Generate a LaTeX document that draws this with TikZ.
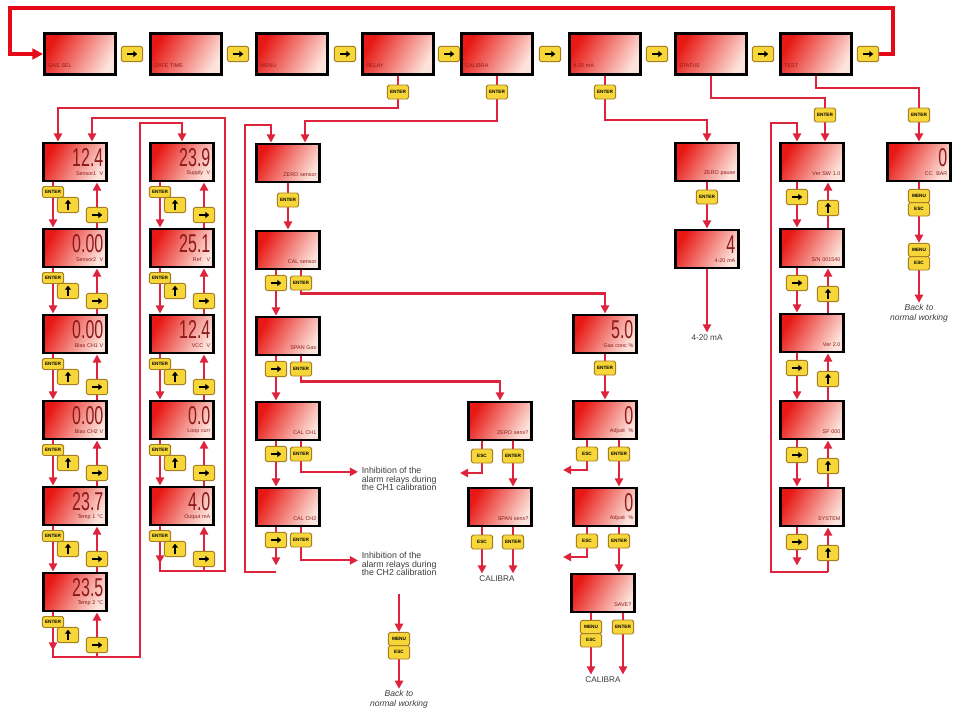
\documentclass[tikz,border=0pt]{standalone}
\usepackage{fontspec}
\setmainfont{Liberation Sans}
\usepackage{graphicx}
\usetikzlibrary{arrows.meta,calc,positioning}

\definecolor{flowred}{RGB}{221,36,60}
\definecolor{loopred}{RGB}{230,10,24}
\definecolor{lcdred}{RGB}{232,24,20}
\definecolor{lcdpale}{RGB}{252,228,220}
\definecolor{lcdink}{RGB}{140,26,26}
\definecolor{keyfill}{RGB}{247,214,58}
\definecolor{keyedge}{RGB}{165,125,35}
\definecolor{noteink}{RGB}{60,60,60}

\pgfdeclarelayer{wires}
\pgfsetlayers{wires,main}

\newcommand{\lcdnum}[1]{\rule{0pt}{15pt}\scalebox{0.62}[1]{\fontsize{22}{22}\selectfont #1}}

\tikzset{
  lcd/.style={draw=black, line width=2.5pt, left color=lcdred, right color=lcdpale,
    shading angle=60, minimum width=1.89cm, minimum height=1.14cm, inner sep=1.5pt,
    text width=1.7cm, align=right, text=lcdink, font=\fontsize{4.6}{5.5}\selectfont},
  lcdtop/.style={lcd, minimum width=2.13cm, minimum height=1.23cm, text width=1.9cm, align=left},
  key/.style={draw=keyedge, fill=keyfill, line width=0.8pt, rounded corners=1.5pt,
    minimum width=0.64cm, minimum height=0.46cm, inner sep=0pt, font=\fontsize{4}{4}\selectfont\bfseries},
  rkey/.style={key, path picture={\draw[draw=black, sharp corners, line width=1.5pt,
      -{Triangle[length=3.4pt,width=5.2pt,fill=black]}]
      ([xshift=-4.5pt]path picture bounding box.center) -- ([xshift=4.5pt]path picture bounding box.center);}},
  ukey/.style={key, path picture={\draw[draw=black, sharp corners, line width=1.5pt,
      -{Triangle[length=3.4pt,width=5.2pt,fill=black]}]
      ([yshift=-4.5pt]path picture bounding box.center) -- ([yshift=4.5pt]path picture bounding box.center);}},
  enterkey/.style={key, minimum height=0.42cm},
  stackkey/.style={key, minimum height=0.33cm},
  menukey/.style={key, minimum height=0.40cm},
  flow/.style={draw=flowred, line width=1.8pt, -{Triangle[length=7pt,width=7pt]}},
  link/.style={draw=flowred, line width=1.8pt},
  bigflow/.style={draw=loopred, line width=3.2pt, -{Triangle[length=9pt,width=9pt]}},
  note/.style={font=\fontsize{7.5}{7.6}\selectfont, text=noteink, align=left, inner sep=3pt},
  back/.style={font=\itshape\fontsize{7.3}{8.2}\selectfont, text=noteink, align=center, inner sep=1pt},
  tag/.style={font=\fontsize{7}{8}\selectfont, text=noteink, inner sep=2pt}
}

\begin{document}
\begin{tikzpicture}[x=0.03cm, y=-0.03cm]
  \useasboundingbox (0,0) rectangle (967,715);

  % top menu ring
  \foreach \n/\x/\lbl in {1/80/GAS SEL, 2/186/DATE TIME, 3/292/MENU, 4/398/RELAY,
      5/497/CALIBRA, 6/605/4-20 mA, 7/711/STATUS, 8/816/TEST}
    \node[lcdtop] (t\n) at (\x,54) {\lcdnum{}\\[2pt]\lbl};
  \foreach \n/\x in {1/132,2/238,3/345,4/449,5/550,6/657,7/763,8/868}
    \node[rkey] (ka\n) at (\x,54) {};
  \node[enterkey] (e4) at (398,92) {ENTER};
  \node[enterkey] (e5) at (497,92) {ENTER};
  \node[enterkey] (e6) at (605,92) {ENTER};
  \node[enterkey] (e7) at (825,115) {ENTER};
  \node[enterkey] (e8) at (919,115) {ENTER};

  % relay pages
  \foreach \n/\y/\val/\lbl in {1/162/12.4/Sensor1~~V, 2/248/0.00/Sensor2~~V, 3/334/0.00/Bias CH1~V,
      4/420/0.00/Bias CH2~V, 5/506/23.7/Temp 1~°C, 6/592/23.5/Temp 2~°C}
    \node[lcd] (r\n) at (75,\y) {\lcdnum{\val}\\[2pt]\lbl};
  \foreach \n/\y/\val/\lbl in {1/162/23.9/Supply~~V, 2/248/25.1/Ref~~~V, 3/334/12.4/VCC~~V,
      4/420/0.0/Loop curr, 5/506/4.0/Output mA}
    \node[lcd] (s\n) at (182,\y) {\lcdnum{\val}\\[2pt]\lbl};
  \foreach \n in {1,...,6} {
    \node[stackkey] (re\n) at ($(r\n)+(-22,30)$) {ENTER};
    \node[ukey] (ru\n) at ($(r\n)+(-7,43)$) {};
    \node[rkey] (rk\n) at ($(r\n)+(22,53)$) {};
  }
  \foreach \n in {1,...,5} {
    \node[stackkey] (se\n) at ($(s\n)+(-22,30)$) {ENTER};
    \node[ukey] (su\n) at ($(s\n)+(-7,43)$) {};
    \node[rkey] (sk\n) at ($(s\n)+(22,53)$) {};
  }

  % calibration pages
  \foreach \n/\y/\lbl in {1/163/ZERO sensor, 2/250/CAL sensor, 3/336/SPAN Gas, 4/421/CAL CH1, 5/507/CAL CH2}
    \node[lcd] (c\n) at (288,\y) {\lcdnum{}\\[2pt]\lbl};
  \node[enterkey] (ce1) at (288,200) {ENTER};
  \foreach \n in {2,...,5} {
    \node[rkey] (ck\n) at ($(c\n)+(-12,33)$) {};
    \node[enterkey] (ce\n) at ($(c\n)+(13,33)$) {ENTER};
  }
  \node[lcd] (z1) at (500,421) {\lcdnum{}\\[2pt]ZERO sens?};
  \node[lcd] (z2) at (500,507) {\lcdnum{}\\[2pt]SPAN sens?};
  \foreach \n in {1,2} {
    \node[enterkey] (zx\n) at ($(z\n)+(-18,35)$) {ESC};
    \node[enterkey] (zn\n) at ($(z\n)+(13,35)$) {ENTER};
  }
  \node[lcd] (g1) at (605,334) {\lcdnum{5.0}\\[2pt]Gas conc~\%};
  \node[lcd] (g2) at (605,420) {\lcdnum{0}\\[2pt]Adjust~~\%};
  \node[lcd] (g3) at (605,507) {\lcdnum{0}\\[2pt]Adjust~~\%};
  \node[lcd] (g4) at (603,593) {\lcdnum{}\\[2pt]SAVE?};
  \node[enterkey] (ge1) at (605,368) {ENTER};
  \foreach \n in {2,3} {
    \node[enterkey] (gx\n) at ($(g\n)+(-18,34)$) {ESC};
    \node[enterkey] (gn\n) at ($(g\n)+(14,34)$) {ENTER};
  }
  \node[menukey] (gm4) at ($(g4)+(-12,34)$) {MENU};
  \node[menukey, below=-0.8pt of gm4] (gx4) {ESC};
  \node[enterkey] (gn4) at ($(g4)+(20,34)$) {ENTER};

  % analog output pages
  \node[lcd] (a1) at (707,162) {\lcdnum{}\\[2pt]ZERO pause};
  \node[enterkey] (ae1) at (707,197) {ENTER};
  \node[lcd] (a2) at (707,249) {\lcdnum{4}\\[2pt]4-20 mA};

  % status pages
  \foreach \n/\y/\lbl in {1/162/{Ver SW 1.0}, 2/248/{S/N 001540}, 3/333/{Ver 2.0}, 4/420/{SF 000}, 5/507/{SYSTEM}}
    \node[lcd] (q\n) at (812,\y) {\lcdnum{}\\[2pt]\lbl};
  \foreach \n in {1,...,5} {
    \node[rkey] (qk\n) at ($(q\n)+(-15,35)$) {};
    \node[ukey] (qu\n) at ($(q\n)+(16,46)$) {};
  }

  % test page
  \node[lcd] (p1) at (919,162) {\lcdnum{0}\\[2pt]CC~~BAR};
  \node[menukey] (pm1) at (919,196) {MENU};
  \node[menukey, below=-0.8pt of pm1] (px1) {ESC};
  \node[menukey] (pm2) at (919,250) {MENU};
  \node[menukey, below=-0.8pt of pm2] (px2) {ESC};

  % notes
  \node[note, anchor=north west] (inh1) at (358,463) {Inhibition of the\\alarm relays during\\the CH1 calibration};
  \node[note, anchor=north west] (inh2) at (358,548) {Inhibition of the\\alarm relays during\\the CH2 calibration};
  \node[menukey] (bm1) at (399,639) {MENU};
  \node[menukey, below=-0.8pt of bm1] (bs1) {ESC};
  \node[back] (bk1) at (399,699) {Back to\\normal working};
  \node[back] (bk2) at (919,313) {Back to\\normal working};
  \node[tag] (cal1) at (497,579) {CALIBRA};
  \node[tag] (cal2) at (603,680) {CALIBRA};
  \node[tag] (mA) at (707,338) {4-20 mA};

  \begin{pgfonlayer}{wires}
  % ring along the top row
  \coordinate (ringR) at (893,8);
  \coordinate (ringL) at (10,8);
  \draw[bigflow] (ka8.east) -| (ringR) -- (ringL) |- (t1.west);
  \foreach \n in {4,5,6} \draw[link] (t\n.south) -- (e\n.north);
  \draw[link] (t7.south) -- ++(0,22) -| (e7.north);
  \draw[link] (t8.south) -- ++(0,12) -| (e8.north);

  % relay loop
  \coordinate (rin) at (58,108);
  \draw[flow] (e4.south) |- (rin) -- (rin |- r1.north);
  \foreach \n [count=\m from 2] in {1,...,5} {
    \draw[flow] (r\n.south -| re\n) -- (r\m.north -| re\n);
    \draw[flow] (r\m.north -| rk\n) -- (r\n.south -| rk\n);
  }
  \foreach \n [count=\m from 2] in {1,...,4} {
    \draw[flow] (s\n.south -| se\n) -- (s\m.north -| se\n);
    \draw[flow] (s\m.north -| sk\n) -- (s\n.south -| sk\n);
  }
  \coordinate (rbot) at (140,657);
  \coordinate (rtop) at (140,123);
  \draw[flow] (r6.south -| re6) |- (rbot) -- (rtop) -| (s1.north);
  \draw[flow] (r6.south -| re6) -- ++(0,38);
  \draw[flow] (rk6 |- rbot) -- (r6.south -| rk6);
  \coordinate (sbot) at (225,571);
  \coordinate (stop) at (225,118);
  \draw[flow] (s5.south -| se5) |- (sbot) -- (stop) -| ($(r1.north)+(17,0)$);
  \draw[flow] (s5.south -| se5) -- ++(0,37);
  \draw[flow] (sk5 |- sbot) -- (s5.south -| sk5);

  % calibration
  \coordinate (cin) at (305,121);
  \draw[flow] (e5.south) |- (cin) -- (cin |- c1.north);
  \draw[flow] (c1.south) -- (c2.north);
  \foreach \n [count=\m from 3] in {2,3,4}
    \draw[flow] (c\n.south -| ck\n) -- (c\m.north -| ck\n);
  \coordinate (cbot) at (245,572);
  \coordinate (ctop) at (245,125);
  \draw[flow] (ck5 |- cbot) -- (cbot) -- (ctop) -| ($(c1.north)+(-17,0)$);
  \draw[flow] (c5.south -| ck5) -- ++(0,38);
  \coordinate (gin) at (0,293.5);
  \coordinate (zin) at (0,381.5);
  \draw[flow] (c2.south -| ce2) |- (gin -| g1) -- (g1.north);
  \draw[flow] (c3.south -| ce3) |- (zin -| z1) -- (z1.north);
  \draw[flow] (c4.south -| ce4) |- ([yshift=6pt]inh1.west);
  \draw[flow] (c5.south -| ce5) |- ([yshift=3pt]inh2.west);
  \draw[flow, shorten <=12pt] (inh2.south -| bm1) -- (bm1.north);
  \draw[flow] (bs1.south) -- (bk1.north);

  % zero / span sensor
  \coordinate (zout1) at (460,473);
  \draw[link] (z1.south -| zx1) -- (zx1.north);
  \draw[flow] (zx1.south) |- (zout1);
  \draw[flow] (z1.south -| zn1) -- (z2.north -| zn1);
  \draw[flow] (z2.south -| zx2) -- (cal1.north -| zx2);
  \draw[flow] (z2.south -| zn2) -- (cal1.north -| zn2);

  % span gas adjust
  \draw[flow] (g1.south) -- (g2.north);
  \foreach \n [count=\m from 3] in {2,3} {
    \draw[link] (g\n.south -| gx\n) -- (gx\n.north);
    \draw[flow] (g\n.south -| gn\n) -- (g\m.north -| gn\n);
  }
  \coordinate (gout2) at (563,470);
  \coordinate (gout3) at (563,557);
  \draw[flow] (gx2.south) |- (gout2);
  \draw[flow] (gx3.south) |- (gout3);
  \draw[flow] (g4.south -| gm4) -- (cal2.north -| gm4);
  \draw[flow] (g4.south -| gn4) -- (cal2.north -| gn4);

  % 4-20 mA
  \coordinate (ain) at (707,120);
  \draw[flow] (e6.south) |- (ain) -- (a1.north);
  \draw[flow] (a1.south) -- (a2.north);
  \draw[flow] (a2.south) -- (mA.north);

  % status loop
  \draw[flow] (e7.south) -- (e7.south |- q1.north);
  \foreach \n [count=\m from 2] in {1,...,4} {
    \draw[flow] (q\n.south -| qk\n) -- (q\m.north -| qk\n);
    \draw[flow] (q\m.north -| qu\n) -- (q\n.south -| qu\n);
  }
  \coordinate (qbot) at (771,572);
  \coordinate (qtop) at (771,123);
  \draw[flow] (qu5 |- qbot) -- (qbot) -- (qtop) -| (q1.north -| qk1);
  \draw[flow] (q5.south -| qk5) -- ++(0,38);
  \draw[flow] (qu5 |- qbot) -- (q5.south -| qu5);

  % test
  \draw[flow] (e8.south) -- (p1.north);
  \draw[link] (p1.south) -- (pm1.north);
  \draw[flow] (px1.south) -- (pm2.north);
  \draw[flow] (px2.south) -- (bk2.north);
  \end{pgfonlayer}
\end{tikzpicture}
\end{document}
